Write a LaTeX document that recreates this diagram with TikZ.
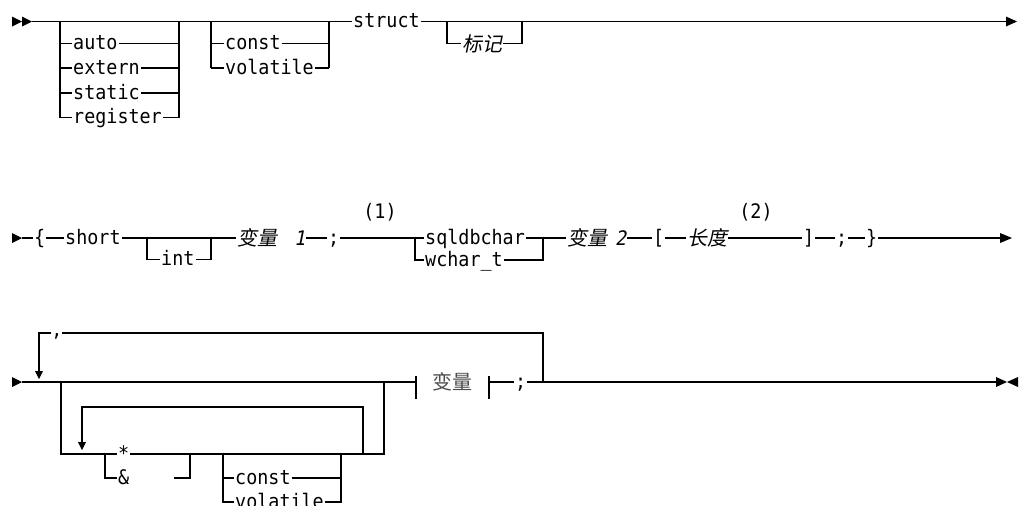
\documentclass[tikz,border=0pt]{standalone}
\usepackage{fontspec}
\setmonofont{DejaVu Sans Mono}
\newfontfamily\kwfont[FakeStretch=0.92]{DejaVu Sans Mono}
\newfontfamily\cjk{Noto Sans CJK SC}
\newfontfamily\cjkit[FakeSlant=0.2]{Noto Sans CJK SC}
\newfontfamily\monoit[FakeSlant=0.2,FakeStretch=0.92]{DejaVu Sans Mono}
\begin{document}
\begin{tikzpicture}[x=1pt,y=-1pt,
  ln/.style={line width=1.3pt},
  kw/.style={font=\kwfont\fontsize{20}{22}\selectfont, inner xsep=1pt, inner ysep=0pt,
             text height=12pt, text depth=0pt, anchor=west},
  vr/.style={font=\cjkit\fontsize{20}{22}\selectfont, inner xsep=1pt, inner ysep=0pt,
             text height=15pt, text depth=0pt, anchor=west},
  note/.style={font=\kwfont\fontsize{20}{22}\selectfont, inner sep=0pt, anchor=center}]
\useasboundingbox (0,0) rectangle (1023,506);

% ================= Row 1 =================
\fill (12,16.5) -- (22,21.5) -- (12,26.5) -- cycle;
\fill (22,16.5) -- (32,21.5) -- (22,26.5) -- cycle;
\coordinate (r1s) at (32,21.5);
\coordinate (g1L) at (60,21.5);  \coordinate (g1R) at (179,21.5);
\coordinate (g2L) at (211,21.5); \coordinate (g2R) at (329,21.5);
\coordinate (g3L) at (447,21.5); \coordinate (g3R) at (522,21.5);
\coordinate (r1e) at (1006,21.5);
\node[kw] (struct) at (352,21.5) {struct};
\draw[ln] (r1s) -- (struct.west);
\draw[ln] (struct.east) -- (r1e);
\fill (1006,16.5) -- (1017,21.5) -- (1006,26.5) -- cycle;

% storage class group
\foreach \t/\y in {auto/43.5, extern/68, static/93, register/117.5}{
  \node[kw] (sc-\t) at (72,\y) {\t};
  \draw[ln] (g1L |- sc-\t.west) -- (sc-\t.west);
  \draw[ln] (sc-\t.east) -- (g1R |- sc-\t.east);
}
\draw[ln] (g1L) -- (g1L |- sc-register.west);
\draw[ln] (g1R) -- (g1R |- sc-register.east);

% qualifier group
\foreach \t/\y in {const/43.5, volatile/68}{
  \node[kw] (q1-\t) at (224,\y) {\t};
  \draw[ln] (g2L |- q1-\t.west) -- (q1-\t.west);
  \draw[ln] (q1-\t.east) -- (g2R |- q1-\t.east);
}
\draw[ln] (g2L) -- (g2L |- q1-volatile.west);
\draw[ln] (g2R) -- (g2R |- q1-volatile.east);

% tag group
\node[vr] (tag) at (461,43.5) {标记};
\draw[ln] (g3L) -- (g3L |- tag.west) -- (tag.west);
\draw[ln] (tag.east) -- (g3R |- tag.east) -- (g3R);

% ================= Row 2 =================
\fill (12,233) -- (22,238) -- (12,243) -- cycle;
\coordinate (r2s) at (22,238);
\node[kw] (lbrace) at (33,238) {\{};
\node[kw] (short) at (64,238) {short};
\coordinate (g4L) at (147,238); \coordinate (g4R) at (211,238);
\node[kw] (int) at (160,259.5) {int};
\node[vr] (var1) at (236,238) {变量\hspace*{17pt}{\monoit 1}};
\node[kw] (semi1) at (327,238) {;};
\node[note] (n1) at (380,212.5) {(1)};
\coordinate (g5L) at (415,238); \coordinate (g5R) at (543,238);
\node[kw] (sqldb) at (424,238) {sqldbchar};
\node[kw] (wchar) at (424,260) {wchar\_t};
\node[vr] (var2) at (566,238) {变量\hspace*{8pt}{\monoit 2}};
\node[kw] (lbrack) at (652,238) {[};
\node[vr] (len) at (686,238) {长度};
\node[note] (n2) at (756,212.5) {(2)};
\node[kw] (rbrack) at (802,238) {]};
\node[kw] (semi2) at (835,238) {;};
\node[kw] (rbrace) at (865,238) {\}};
\coordinate (r2e) at (1000,238);

\draw[ln] (r2s) -- (lbrace.west);
\draw[ln] (lbrace.east) -- (short.west);
\draw[ln] (short.east) -- (var1.west);
\draw[ln] (g4L) -- (g4L |- int.west) -- (int.west);
\draw[ln] (int.east) -- (g4R |- int.east) -- (g4R);
\draw[ln] (var1.east) -- (semi1.west);
\draw[ln] (semi1.east) -- (sqldb.west);
\draw[ln] (g5L) -- (g5L |- wchar.west) -- (wchar.west);
\draw[ln] (sqldb.east) -- (var2.west);
\draw[ln] (wchar.east) -- (g5R |- wchar.east) -- (g5R);
\draw[ln] (var2.east) -- (lbrack.west);
\draw[ln] (lbrack.east) -- (len.west);
\draw[ln] (len.east) -- (rbrack.west);
\draw[ln] (rbrack.east) -- (semi2.west);
\draw[ln] (semi2.east) -- (rbrace.west);
\draw[ln] (rbrace.east) -- (r2e);
\fill (1000,233) -- (1012,238) -- (1000,243) -- cycle;

% ================= Row 3 =================
\fill (12,377) -- (22,382) -- (12,387) -- cycle;
\coordinate (r3s) at (22,382);
\coordinate (clT) at (39,333); \coordinate (clR) at (543,333);
\node[kwfont/.style={}, font=\kwfont\fontsize{20}{22}\selectfont, inner sep=0pt, anchor=north] (comma) at (57,333.5) {,};
\coordinate (cw) at (51,333); \coordinate (ce) at (62,333);
\draw[ln] (cw) -- (clT) -- (39,372);
\fill (35,371) -- (43,371) -- (39,379) -- cycle;
\draw[ln] (ce) -- (clR) -- (543,382);

\coordinate (oL) at (61,382); \coordinate (oR) at (384,382);
\coordinate (iL) at (82,407); \coordinate (iR) at (363,407);
\coordinate (sL) at (105,454); \coordinate (sR) at (190,454);
\coordinate (cL) at (223,454); \coordinate (cR) at (341,454);
\node[kw] (star) at (117,454) {*};
\node[kw] (amp) at (117,478) {\&};
\coordinate (ampe) at (174,478);
\node[kw] (q2-const) at (234,478) {const};
\node[kw] (q2-vol) at (234,502) {volatile};

\draw[ln] (oL) -- (oL |- star.west) -- (star.west);
\draw[ln] (star.east) -- (oR |- star.east) -- (oR);
\draw[ln] (sL) -- (sL |- amp.west) -- (amp.west);
\draw[ln] (ampe) -- (sR |- ampe) -- (sR);
\draw[ln] (iR |- star.east) -- (iR) -- (iL) -- (82,443);
\fill (78,442) -- (86,442) -- (82,450) -- cycle;
\draw[ln] (cL) -- (cL |- q2-vol.west) -- (q2-vol.west);
\draw[ln] (cL |- q2-const.west) -- (q2-const.west);
\draw[ln] (q2-const.east) -- (cR |- q2-const.east);
\draw[ln] (q2-vol.east) -- (cR |- q2-vol.east) -- (cR);

\coordinate (t1) at (416,382); \coordinate (t2) at (489,382);
\node[font=\cjk\fontsize{20}{22}\selectfont, text=black!70, inner sep=0pt] (var3) at (452,382) {变量};
\draw[ln] (r3s) -- (t1);
\draw[ln] (416,376) -- (416,399);
\draw[ln] (489,376) -- (489,399);
\node[kw] (semi3) at (514,382) {;};
\draw[ln] (t2) -- (semi3.west);
\draw[ln] (semi3.east) -- (996,382);
\fill (996,377) -- (1007,382) -- (996,387) -- cycle;
\fill (1018,377) -- (1007,382) -- (1018,387) -- cycle;
\end{tikzpicture}
\end{document}
